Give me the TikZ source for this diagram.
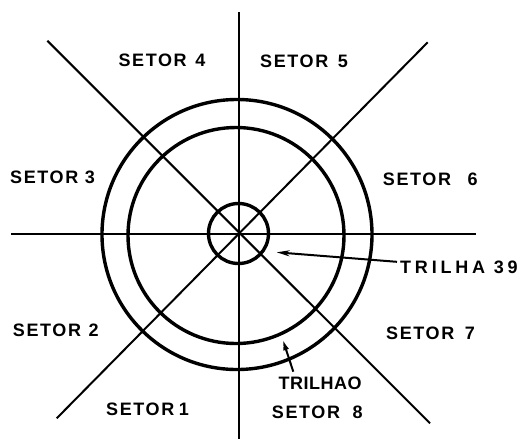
\documentclass[tikz,border=0pt]{standalone}
\usepackage{fontspec}
\usetikzlibrary{arrows.meta}
\newfontfamily\labfont[LetterSpace=9]{Liberation Sans Bold}
\newfontfamily\widefont[LetterSpace=21]{Liberation Sans Bold}
\newfontfamily\tightfont[LetterSpace=3]{Liberation Sans Bold}
\begin{document}
\begin{tikzpicture}[x=1pt,y=-1pt,
  axis/.style={line width=2pt},
  track/.style={line width=3.4pt},
  lab/.style={font=\labfont\fontsize{18}{18}\selectfont, inner sep=0pt, anchor=base west},
  widelab/.style={lab, font=\widefont\fontsize{18}{18}\selectfont},
  tightlab/.style={lab, font=\tightfont\fontsize{18}{18}\selectfont},
  pointer/.style={line width=2pt}]
\useasboundingbox (0,0) rectangle (521,440);
\coordinate (c) at (238.5,233.5);
\coordinate (ci) at (236,235.5);
\coordinate (vt) at (238.5,12);
\coordinate (vb) at (238.5,439);
\coordinate (hl) at (11,233.5);
\coordinate (hr) at (476,233.5);
\coordinate (d1a) at (47.3,40.7);
\coordinate (d1b) at (430,423.3);
\coordinate (d2a) at (427.7,42.3);
\coordinate (d2b) at (56.7,418.3);
\draw[axis] (vt) -- (vb);
\draw[axis] (hl) -- (hr);
\draw[axis] (d1a) -- (d1b);
\draw[axis] (d2a) -- (d2b);
\draw[track] (237,234.5) circle (135);
\draw[track] (ci) circle (108);
\draw[track] (c) circle (30);
\node[lab] (s4) at (118.3,66) {SETOR\hspace{2pt} 4};
\node[lab] (s5) at (260,67.5) {SETOR\hspace{3pt} 5};
\node[lab] (s3) at (10,183) {SETOR 3};
\node[lab] (s6) at (382.7,185) {SETOR\hspace{10pt} 6};
\node[widelab] (t39) at (400,273) {TRILHA 39};
\node[lab] (s2) at (12.7,336) {SETOR\hspace{1pt} 2};
\node[lab] (s7) at (386,339) {SETOR\hspace{4pt} 7};
\node[tightlab] (t0) at (278.3,389) {TRILHAO};
\node[lab] (s1) at (106,415) {SETOR\hspace{-2pt} 1};
\node[lab] (s8) at (271.7,418) {SETOR\hspace{6pt} 8};
\coordinate (p39) at (276.7,252.3);
\coordinate (p0) at (282.7,339.3);
\coordinate (q0) at (293.3,371.7);
\draw[pointer,-{Stealth[length=13pt,width=6pt]}] (t39.west) ++(-3,-5) -- (p39);
\draw[pointer,-{Latex[length=11pt,width=6pt]}] (q0) -- (p0);
\end{tikzpicture}
\end{document}
